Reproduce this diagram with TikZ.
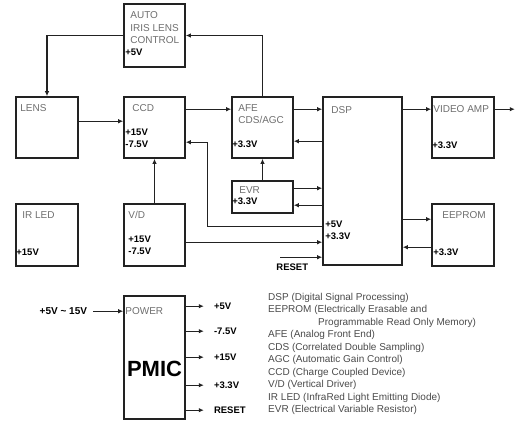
\documentclass[tikz,border=0pt]{standalone}
\usepackage{fontspec}
\setmainfont{Liberation Sans}
\usepackage{xcolor}
\usetikzlibrary{arrows.meta,positioning,calc}
\definecolor{linec}{HTML}{222222}
\definecolor{namegray}{HTML}{6E6E6E}
\definecolor{leggray}{HTML}{4A4A4A}

\begin{document}
\begin{tikzpicture}[x=1pt, y=-1pt,
  blk/.style={draw=linec, line width=1.6pt, inner sep=0pt, minimum width=61pt, minimum height=61pt},
  nm/.style={text=namegray, font=\fontsize{10}{12.5}\selectfont, inner sep=0pt, align=left},
  volt/.style={text=black, font=\bfseries\fontsize{9.5}{12.5}\selectfont, inner sep=0pt, align=left},
  arr/.style={-{Latex[length=5pt,width=4.5pt]}, line width=1.3pt, draw=linec}
]
\useasboundingbox (0,0) rectangle (515,421);
\node[blk, minimum height=63pt] (iris) at (154.5,35.5) {};
\node[blk, minimum width=62pt] (lens) at (47,127.5) {};
\node[blk] (ccd) at (154.5,127.5) {};
\node[blk] (afe) at (262.5,127.5) {};
\node[blk, minimum width=79pt, minimum height=168pt] (dsp) at (362.5,181) {};
\node[blk, minimum width=62pt] (vamp) at (463,127.5) {};
\node[blk, minimum height=32pt] (evr) at (262.5,197) {};
\node[blk, minimum width=62pt, minimum height=62pt] (eeprom) at (463,235) {};
\node[blk, minimum width=62pt, minimum height=62pt] (irled) at (47,235) {};
\node[blk, minimum height=62pt] (vd) at (154.5,235) {};
\node[blk, minimum height=123pt] (pmic) at (154.5,357.5) {};
\node[font=\bfseries\fontsize{22}{22}\selectfont, inner sep=0pt] (pmictext) at ([yshift=-11.5pt]pmic.center) {PMIC};

\node[nm, anchor=north west] (irisname) at ([xshift=7pt,yshift=-8.4pt]iris.north west) {AUTO\\IRIS LENS\\CONTROL};
\node[volt, anchor=base west] (irisv) at ([xshift=2pt,yshift=-52.5pt]iris.north west) {+5V};
\node[nm, anchor=base west] (lensname) at ([xshift=5pt,yshift=-15.6pt]lens.north west) {LENS};
\node[nm, anchor=base west] (ccdname) at ([xshift=9pt,yshift=-15.6pt]ccd.north west) {CCD};
\node[volt, anchor=north west] (ccdv) at ([xshift=2pt,yshift=-32.3pt]ccd.north west) {+15V\\-7.5V};
\node[nm, anchor=north west, font=\fontsize{10}{12}\selectfont] (afename) at ([xshift=7pt,yshift=-8.4pt]afe.north west) {AFE\\CDS/AGC};
\node[volt, anchor=base west] (afev) at ([xshift=1pt,yshift=-51.6pt]afe.north west) {+3.3V};
\node[nm, anchor=base west] (dspname) at ([xshift=9pt,yshift=-17.6pt]dsp.north west) {DSP};
\node[volt, anchor=north west, font=\bfseries\fontsize{9.5}{12}\selectfont] (dspv) at ([xshift=3pt,yshift=-124.4pt]dsp.north west) {+5V\\+3.3V};
\node[nm, anchor=base west] (vampname) at ([xshift=2pt,yshift=-16.6pt]vamp.north west) {VIDEO AMP};
\node[volt, anchor=base west] (vampv) at ([xshift=1pt,yshift=-52.6pt]vamp.north west) {+3.3V};
\node[nm, anchor=base west] (evrname) at ([xshift=8pt,yshift=-13.6pt]evr.north west) {EVR};
\node[volt, anchor=base west] (evrv) at ([xshift=1pt,yshift=-24.6pt]evr.north west) {+3.3V};
\node[nm, anchor=base west] (irledname) at ([xshift=7pt,yshift=-15.6pt]irled.north west) {IR LED};
\node[volt, anchor=base west] (irledv) at ([xshift=1pt,yshift=-52.6pt]irled.north west) {+15V};
\node[nm, anchor=base west] (vdname) at ([xshift=5pt,yshift=-15.6pt]vd.north west) {V/D};
\node[volt, anchor=north west] (vdv) at ([xshift=5pt,yshift=-32.4pt]vd.north west) {+15V\\-7.5V};
\node[nm, anchor=base west] (eepromname) at ([xshift=11pt,yshift=-15.6pt]eeprom.north west) {EEPROM};
\node[volt, anchor=base west] (eepromv) at ([xshift=2pt,yshift=-52.6pt]eeprom.north west) {+3.3V};
\node[nm, anchor=base west] (powername) at ([xshift=2pt,yshift=-19.6pt]pmic.north west) {POWER};

\coordinate (vout) at ([xshift=20pt,yshift=-13pt]vamp.north east);
\coordinate (rstin) at ([xshift=-42pt,yshift=-161pt]dsp.north west);
\node[volt, anchor=base west] (rstlbl) at ([xshift=-46pt,yshift=-174.6pt]dsp.north west) {RESET};
\coordinate (pwrin) at ([xshift=-30pt,yshift=-16pt]pmic.north west);
\node[volt, anchor=base east, font=\bfseries\fontsize{10}{12}\selectfont] (pwrlbl) at ([xshift=-6pt,yshift=-3.6pt]pwrin) {+5V \textasciitilde{} 15V};

\draw[arr] (afe.north) |- (iris.east);
\draw[arr] (iris.west) -| (lens.north);
\draw[arr] ([yshift=-25pt]lens.north east) -- ([yshift=-25pt]ccd.north west);
\draw[arr] ([yshift=-13pt]ccd.north east) -- ([yshift=-13pt]afe.north west);
\draw[arr] ([yshift=-13pt]afe.north east) -- ([yshift=-13pt]dsp.north west);
\draw[arr] ([yshift=-13pt]dsp.north east) -- ([yshift=-13pt]vamp.north west);
\draw[arr] ([yshift=-13pt]vamp.north east) -- (vout);
\draw[arr] ([yshift=-45pt]dsp.north west) -- ([yshift=-45pt]afe.north east);
\draw[arr] (vd.north) -- (ccd.south);
\draw[arr] ([yshift=-130pt]dsp.north west) -- ++(-115,0) |- ([yshift=-46pt]ccd.north east);
\draw[arr] ([yshift=-39pt]vd.north east) -- ([yshift=-146pt]dsp.north west);
\draw[arr] (evr.north) -- (afe.south);
\draw[arr] ([yshift=-8pt]evr.north east) -- ([yshift=-92pt]dsp.north west);
\draw[arr] ([yshift=-109pt]dsp.north west) -- ([yshift=-25pt]evr.north east);
\draw[arr] ([yshift=-123pt]dsp.north east) -- ([yshift=-16pt]eeprom.north west);
\draw[arr] ([yshift=-44pt]eeprom.north west) -- ([yshift=-151pt]dsp.north east);
\draw[arr] (rstin) -- ([yshift=-161pt]dsp.north west);
\draw[arr] (pwrin) -- ([yshift=-16pt]pmic.north west);

\coordinate (o1) at ([xshift=18pt,yshift=-11pt]pmic.north east);
\coordinate (o2) at ([xshift=18pt,yshift=-36pt]pmic.north east);
\coordinate (o3) at ([xshift=18pt,yshift=-62pt]pmic.north east);
\coordinate (o4) at ([xshift=18pt,yshift=-90pt]pmic.north east);
\coordinate (o5) at ([xshift=18pt,yshift=-115pt]pmic.north east);
\draw[arr] ([yshift=-11pt]pmic.north east) -- (o1);
\draw[arr] ([yshift=-36pt]pmic.north east) -- (o2);
\draw[arr] ([yshift=-62pt]pmic.north east) -- (o3);
\draw[arr] ([yshift=-90pt]pmic.north east) -- (o4);
\draw[arr] ([yshift=-115pt]pmic.north east) -- (o5);
\node[volt, right=10pt of o1] (v1) {+5V};
\node[volt, right=10pt of o2] (v2) {-7.5V};
\node[volt, right=10pt of o3] (v3) {+15V};
\node[volt, right=10pt of o4] (v4) {+3.3V};
\node[volt, right=10pt of o5] (v5) {RESET};

\node[anchor=north west, text=leggray, font=\fontsize{10}{12.5}\selectfont, align=left, inner sep=0pt] (legend) at (268,293)
  {DSP (Digital Signal Processing)\\EEPROM (Electrically Erasable and\\\hspace*{50pt}Programmable Read Only Memory)\\AFE (Analog Front End)\\CDS (Correlated Double Sampling)\\AGC (Automatic Gain Control)\\CCD (Charge Coupled Device)\\V/D (Vertical Driver)\\IR LED (InfraRed Light Emitting Diode)\\EVR (Electrical Variable Resistor)};
\end{tikzpicture}
\end{document}
